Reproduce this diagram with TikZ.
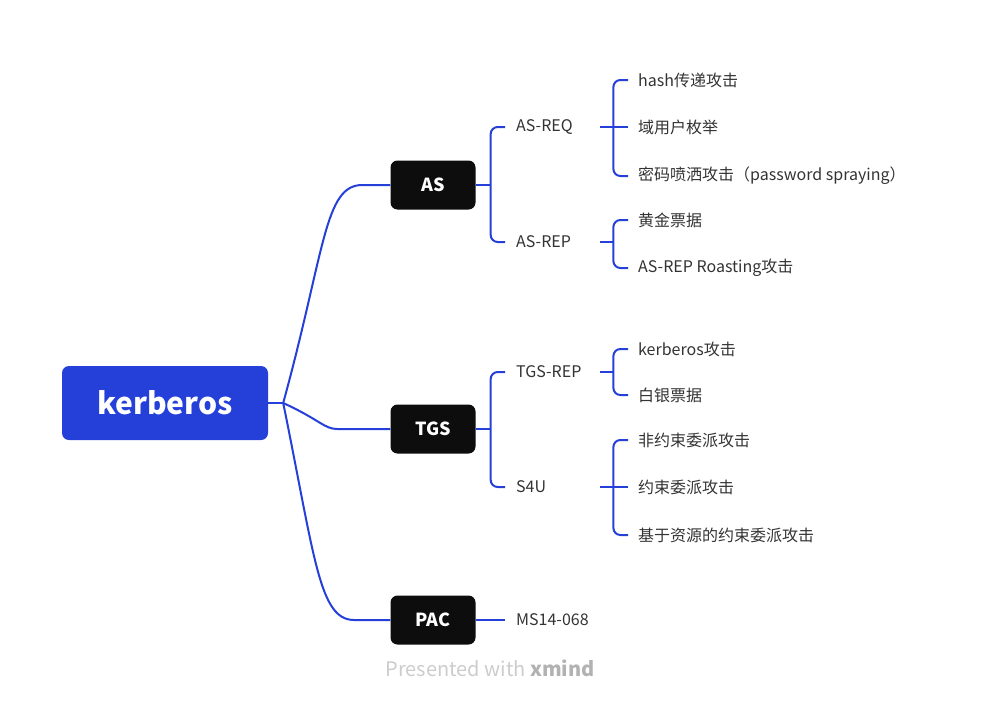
\documentclass[tikz,border=0pt]{standalone}
\usepackage{fontspec}
\setmainfont{Noto Sans CJK SC}
\usetikzlibrary{positioning}
\definecolor{kblue}{RGB}{37,64,217}
\definecolor{leafgray}{RGB}{51,51,51}

\begin{document}
\begin{tikzpicture}[x=1pt,y=-1pt,
    root/.style={fill=kblue, rounded corners=7pt, text=white, minimum width=206pt, minimum height=74pt, font=\fontsize{30}{30}\selectfont\bfseries},
    topic/.style={fill=black!95, rounded corners=7pt, text=white, minimum width=85pt, minimum height=49pt, font=\fontsize{18}{18}\selectfont\bfseries},
    sub/.style={anchor=west, text width=73pt, inner xsep=11pt, inner ysep=0pt, align=left, text=leafgray, font=\fontsize{16}{16}\selectfont},
    leaf/.style={anchor=west, inner xsep=10pt, inner ysep=0pt, text=leafgray, font=\fontsize{16}{16}\selectfont},
    link/.style={draw=kblue, line width=2pt},
    bracket/.style={link, rounded corners=7pt}]
    \useasboundingbox (0,0) rectangle (984,707);
    \node[root] (kerberos) at (165,403) {kerberos};
    \node[topic] (as) at (433,185) {AS};
    \node[topic] (tgs) at (433,429) {TGS};
    \node[topic] (pac) at (433,620) {PAC};
    \node[sub] (asreq) at (505,127) {AS-REQ};
    \node[sub] (asrep) at (505,242) {AS-REP};
    \node[sub] (tgsrep) at (505,372) {TGS-REP};
    \node[sub] (s4u) at (505,487) {S4U};
    \node[sub] (ms) at (505,620) {MS14-068};
    \node[leaf] (hash) at (628,80) {hash传递攻击};
    \node[leaf] (enum) at (628,127) {域用户枚举};
    \node[leaf] (spray) at (628,176) {密码喷洒攻击（password spraying）};
    \node[leaf] (golden) at (628,220) {黄金票据};
    \node[leaf] (roast) at (628,268) {AS-REP Roasting攻击};
    \node[leaf] (kerb) at (628,349) {kerberos攻击};
    \node[leaf] (silver) at (628,395) {白银票据};
    \node[leaf] (uncon) at (628,440) {非约束委派攻击};
    \node[leaf] (con) at (628,487) {约束委派攻击};
    \node[leaf] (rbcd) at (628,535) {基于资源的约束委派攻击};
    \node[text=black!20, font=\fontsize{20}{20}\selectfont] (credit) at (490,668) {Presented with \textcolor{black!30}{\textbf{xmind}}};

    \draw[link] (kerberos.east) -- ++(15,0) coordinate (rj);
    \draw[bracket] (rj) .. controls +(42,-153) and +(-45,0) .. ([xshift=-21pt]as.west) -- (as.west);
    \draw[bracket] (rj) .. controls +(37,17) and +(-20,0) .. ([xshift=-46pt]tgs.west) -- (tgs.west);
    \draw[bracket] (rj) .. controls +(32,157) and +(-42,0) .. ([xshift=-29pt]pac.west) -- (pac.west);

    \draw[link] (as.east) -- ++(15,0);
    \draw[bracket] (asreq.west) -| ([xshift=15pt]as.east) |- (asrep.west);
    \draw[link] (tgs.east) -- ++(15,0);
    \draw[bracket] (tgsrep.west) -| ([xshift=15pt]tgs.east) |- (s4u.west);
    \draw[link] (pac.east) -- (ms.west);

    \draw[link] (asreq.east) -- (enum.west);
    \draw[bracket] (hash.west) -| ([xshift=13pt]asreq.east) |- (spray.west);
    \draw[link] (asrep.east) -- ++(13,0);
    \draw[bracket] (golden.west) -| ([xshift=13pt]asrep.east) |- (roast.west);
    \draw[link] (tgsrep.east) -- ++(13,0);
    \draw[bracket] (kerb.west) -| ([xshift=13pt]tgsrep.east) |- (silver.west);
    \draw[link] (s4u.east) -- (con.west);
    \draw[bracket] (uncon.west) -| ([xshift=13pt]s4u.east) |- (rbcd.west);
\end{tikzpicture}
\end{document}
